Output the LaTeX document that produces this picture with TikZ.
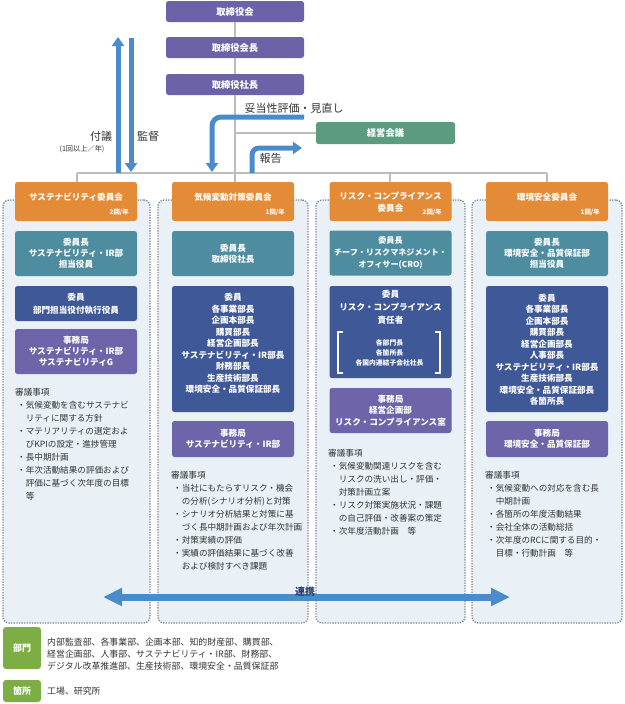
\documentclass[tikz,border=0pt]{standalone}
\usepackage{fontspec}
\setmainfont{Noto Sans CJK JP}
\usetikzlibrary{arrows.meta}
\definecolor{cTop}{HTML}{6B62A7}
\definecolor{cKeiei}{HTML}{5C9B80}
\definecolor{cOrange}{HTML}{E38B37}
\definecolor{cTeal}{HTML}{4E8DA0}
\definecolor{cNavy}{HTML}{3E5898}
\definecolor{cJimu}{HTML}{6E64A9}
\definecolor{cPanel}{HTML}{E9F1F6}
\definecolor{cDot}{HTML}{7E878F}
\definecolor{cArrow}{HTML}{4A8CCB}
\definecolor{cGray}{HTML}{BDBDBD}
\definecolor{cLeg}{HTML}{7DAE45}
\definecolor{cText}{HTML}{333333}
\definecolor{cRenkei}{HTML}{2C3E6E}
\newcommand\rvB[1]{\hspace*{2pt}\makebox[8.6pt][c]{・}#1}
\newcommand\rvC[1]{\hspace*{10.6pt}#1}
\begin{document}
\begin{tikzpicture}[x=1pt,y=-1pt,
 box/.style={rounded corners=2.5pt, text=white, align=center, inner sep=0pt, minimum width=122pt, font=\bfseries\fontsize{8.6}{11.2}\selectfont},
 topbox/.style={box, fill=cTop, minimum width=138pt, minimum height=21pt, font=\bfseries\fontsize{9.3}{11}\selectfont},
 orbox/.style={box, fill=cOrange, minimum height=39pt},
 tealbox/.style={box, fill=cTeal, minimum height=45pt},
 navybox/.style={box, fill=cNavy},
 jimubox/.style={box, fill=cJimu},
 btext/.style={text=white, align=center, inner sep=0pt, font=\bfseries\fontsize{8.6}{11.5}\selectfont},
 freq/.style={text=white, inner sep=0pt, font=\bfseries\fontsize{6.4}{7}\selectfont, anchor=east},
 panel/.style={draw=cDot, fill=cPanel, line width=1.3pt, dash pattern=on 1.3pt off 1.3pt, rounded corners=6pt, inner sep=0pt},
 gline/.style={draw=cGray, line width=2pt},
 barrow/.style={draw=cArrow, line width=5pt, -{Triangle[width=12pt,length=9pt]}},
 rarrow/.style={draw=cArrow, line width=7pt, {Triangle[width=17pt,length=19pt]}-{Triangle[width=17pt,length=19pt]}},
 lab/.style={text=cText, inner sep=0pt, font=\fontsize{11}{13}\selectfont},
 rev/.style={text=cText, align=left, inner sep=0pt, anchor=north west, font=\fontsize{8.6}{13}\selectfont},
 leg/.style={fill=cLeg, rounded corners=3pt, text=white, inner sep=0pt, minimum width=38pt, font=\bfseries\fontsize{9}{11}\selectfont},
 legtext/.style={text=cText, align=left, inner sep=0pt, anchor=west, font=\fontsize{8.9}{12}\selectfont},
 brk/.style={draw=white, line width=1.5pt},
]
\useasboundingbox (0,0) rectangle (624,704);

% panels
\node[panel, minimum width=147pt, minimum height=423pt] (p1) at (76.5,411.5) {};
\node[panel, minimum width=150pt, minimum height=423pt] (p2) at (233,411.5) {};
\node[panel, minimum width=149pt, minimum height=423pt] (p3) at (390.5,411.5) {};
\node[panel, minimum width=150pt, minimum height=423pt] (p4) at (547,411.5) {};

% top boxes
\node[topbox] (b1) at (235,11.5) {取締役会};
\node[topbox] (b2) at (235,47.5) {取締役会長};
\node[topbox] (b3) at (235,84.5) {取締役社長};
\node[box, fill=cKeiei, minimum width=139pt, minimum height=22pt, font=\bfseries\fontsize{9.3}{11}\selectfont] (keiei) at (385.5,133) {経営会議};

% connectors
\coordinate (cj1) at (235,173);
\coordinate (cj2) at (235,133);
\coordinate (busL) at (77,173);
\coordinate (busR) at (547,173);
\draw[gline] (b1) -- (b2);
\draw[gline] (b2) -- (b3);
\draw[gline] (b3.south) -- (cj1);
\draw[gline] (cj2) -- (keiei.west);
\draw[gline] (busL) -- (busR);

% committees
\node[orbox] (o1) at (76,201.5) {};
\node[orbox] (o2) at (233,201.5) {};
\node[orbox] (o3) at (390.5,201.5) {};
\node[orbox] (o4) at (547,201.5) {};
\draw[gline] (busL) -- (busL |- o1.north);
\draw[gline] (cj1) -- (cj1 |- o2.north);
\draw[gline] (390,173) -- (390,182);
\draw[gline] (busR) -- (busR |- o4.north);
\node[btext] (ot1) at (76,197) {サステナビリティ委員会};
\node[btext] (ot2) at (233,197) {気候変動対策委員会};
\node[btext, font=\bfseries\fontsize{8.6}{12}\selectfont] (ot3) at (390.5,202) {リスク・コンプライアンス\\委員会};
\node[btext] (ot4) at (547,197) {環境安全委員会};
\node[freq] (f1) at (129,212) {2回/年};
\node[freq] (f2) at (285,212) {1回/年};
\node[freq] (f3) at (442,212) {2回/年};
\node[freq] (f4) at (600,212) {1回/年};

% chair boxes
\node[tealbox] (t1) at (76,253.5) {委員長\\サステナビリティ・IR部\\担当役員};
\node[tealbox] (t2) at (233,253.5) {委員長\\取締役社長};
\node[tealbox, font=\bfseries\fontsize{8.1}{11.8}\selectfont] (t3) at (390.5,253) {委員長\\チーフ・リスクマネジメント・\\オフィサー(CRO)};
\node[tealbox] (t4) at (547,253.5) {委員長\\環境安全・品質保証部\\担当役員};

% member boxes
\node[navybox, minimum height=35pt, font=\bfseries\fontsize{8.6}{13}\selectfont] (n1) at (76,303.5) {委員\\部門担当役付執行役員};
\node[navybox, minimum height=126pt] (n2) at (233,349) {};
\node[btext] (n2t) at (233,343.5) {委員\\各事業部長\\企画本部長\\購買部長\\経営企画部長\\サステナビリティ・IR部長\\財務部長\\生産技術部長\\環境安全・品質保証部長};
\node[navybox, minimum height=92pt] (n3) at (390.5,332) {};
\node[btext, font=\bfseries\fontsize{8.6}{12.8}\selectfont] (n3t) at (390.5,307) {委員\\リスク・コンプライアンス\\責任者};
\node[btext, font=\bfseries\fontsize{6.8}{10}\selectfont] (n3s) at (389.5,352.5) {各部門長\\各箇所長\\各国内連結子会社社長};
\draw[brk] (343,332) -- (338,332) -- (338,373) -- (343,373);
\draw[brk] (435,332) -- (440,332) -- (440,373) -- (435,373);
\node[navybox, minimum height=126pt] (n4) at (547,349) {};
\node[btext] (n4t) at (547,349.5) {委員\\各事業部長\\企画本部長\\購買部長\\経営企画部長\\人事部長\\サステナビリティ・IR部長\\生産技術部長\\環境安全・品質保証部長\\各箇所長};

% secretariat boxes
\node[jimubox, minimum height=45pt] (j1) at (76,351.5) {事務局\\サステナビリティ・IR部\\サステナビリティG};
\node[jimubox, minimum height=36pt] (j2) at (233,439) {事務局\\サステナビリティ・IR部};
\node[jimubox, minimum height=45pt] (j3) at (390.5,410.5) {事務局\\経営企画部\\リスク・コンプライアンス室};
\node[jimubox, minimum height=36pt] (j4) at (547,439) {事務局\\環境安全・品質保証部};

% review items
\node[rev] (r1) at (15,387.6) {審議事項\\
\rvB{気候変動を含むサステナビ}\\
\rvC{リティに関する方針}\\
\rvB{マテリアリティの選定およ}\\
\rvC{びKPIの設定・進捗管理}\\
\rvB{長中期計画}\\
\rvB{年次活動結果の評価および}\\
\rvC{評価に基づく次年度の目標}\\
\rvC{等}};
\node[rev] (r2) at (171,470.6) {審議事項\\
\rvB{当社にもたらすリスク・機会}\\
\rvC{の分析(シナリオ分析)と対策}\\
\rvB{シナリオ分析結果と対策に基}\\
\rvC{づく長中期計画および年次計画}\\
\rvB{対策実績の評価}\\
\rvB{実績の評価結果に基づく改善}\\
\rvC{および検討すべき課題}};
\node[rev] (r3) at (328,448.6) {審議事項\\
\rvB{気候変動関連リスクを含む}\\
\rvC{リスクの洗い出し・評価・}\\
\rvC{対策計画立案}\\
\rvB{リスク対策実施状況・課題}\\
\rvC{の自己評価・改善案の策定}\\
\rvB{次年度活動計画　等}};
\node[rev] (r4) at (485,470.6) {審議事項\\
\rvB{気候変動への対応を含む長}\\
\rvC{中期計画}\\
\rvB{各箇所の年度活動結果}\\
\rvB{会社全体の活動総括}\\
\rvB{次年度のRCに関する目的・}\\
\rvC{目標・行動計画　等}};

% blue arrows
\coordinate (upS) at (118,173);
\coordinate (upE) at (118,37);
\coordinate (dnS) at (131,38);
\coordinate (dnE) at (131,172);
\draw[barrow] (upS) -- (upE);
\draw[barrow] (dnS) -- (dnE);
\coordinate (vS) at (304,117);
\coordinate (vE) at (212,172);
\draw[barrow, rounded corners=9pt] (vS) -| (vE);
\coordinate (hS) at (252,173);
\coordinate (hE) at (302,148);
\draw[barrow, rounded corners=7pt] (hS) |- (hE);

% labels
\node[lab] (lDatou) at (294,108) {妥当性評価・見直し};
\node[lab] (lHoukoku) at (270.5,158) {報告};
\node[lab] (lFugi) at (101,136) {付議};
\node[lab, font=\fontsize{7.2}{9}\selectfont] (lFugiF) at (82,149) {(1回以上／年)};
\node[lab] (lKantoku) at (148,136) {監督};

% renkei
\coordinate (rkL) at (103,597);
\coordinate (rkR) at (510,597);
\draw[rarrow] (rkL) -- (rkR);
\node[inner sep=0pt, text=cRenkei, font=\bfseries\fontsize{10}{12}\selectfont] (renkei) at (305,592) {連携};

% legend
\node[leg, minimum height=42pt] (lg1) at (22,648) {部門};
\node[leg, minimum height=22pt] (lg2) at (22,691) {箇所};
\node[legtext] (lt1) at (47,654) {内部監査部、各事業部、企画本部、知的財産部、購買部、\\経営企画部、人事部、サステナビリティ・IR部、財務部、\\デジタル改革推進部、生産技術部、環境安全・品質保証部};
\node[legtext] (lt2) at (47,691) {工場、研究所};
\end{tikzpicture}
\end{document}
